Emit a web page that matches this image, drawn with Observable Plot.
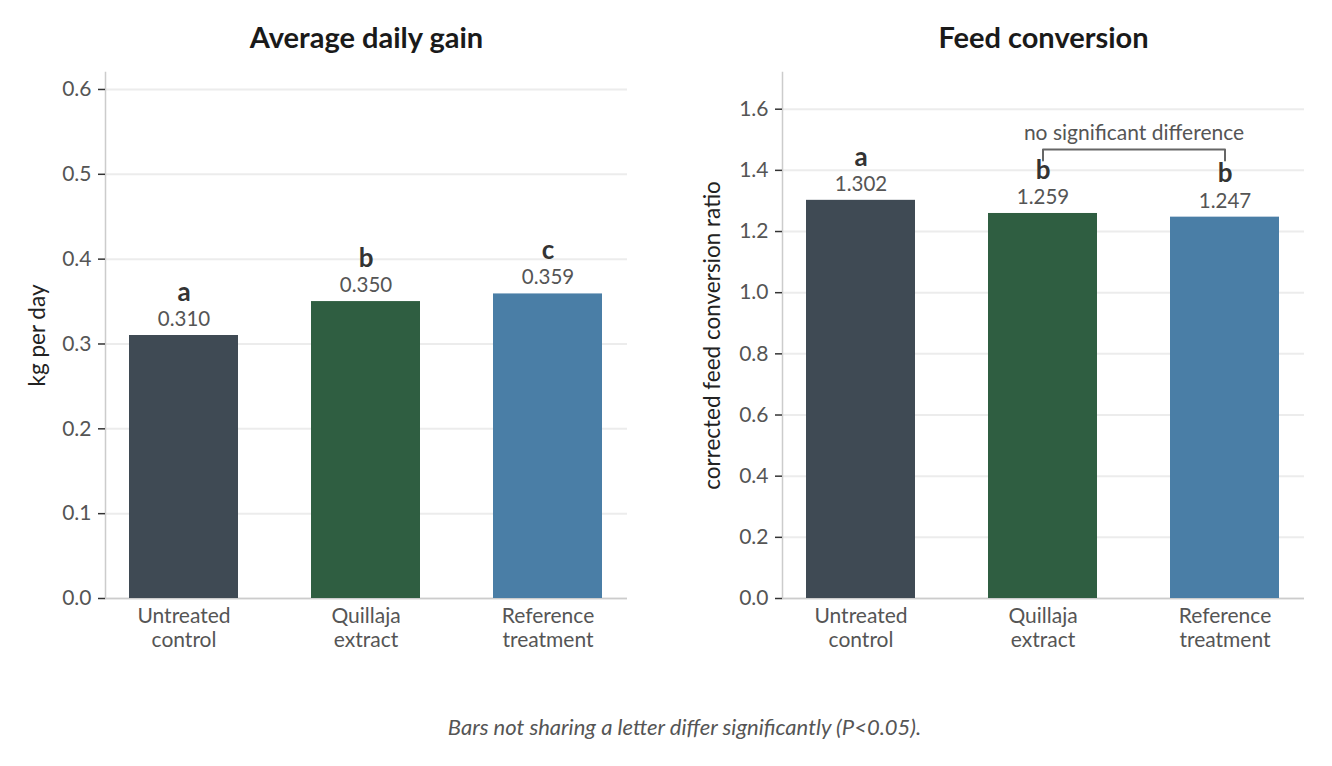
<!DOCTYPE html>
<html>
<head>
<meta charset="utf-8">
<script src="https://cdn.jsdelivr.net/npm/d3@7"></script>
<script src="https://cdn.jsdelivr.net/npm/@observablehq/plot@0.6"></script>
<style>
  html, body { margin: 0; padding: 0; background: #fff; }
  body { width: 1332px; height: 766px; overflow: hidden; font-family: Lato, "Open Sans", sans-serif; }
  #charts { display: flex; flex-direction: row; }
  #charts svg { display: block; }
  #caption { text-align: center; font-style: italic; font-size: 22px; color: #555; margin-top: 43px; padding-left: 37px; }
</style>
</head>
<body>
<div id="charts"></div>
<div id="caption">Bars not sharing a letter differ significantly (P&lt;0.05).</div>
<script>
// ---- data ----
const categories = ["Untreated control", "Quillaja extract", "Reference treatment"];
const tickLabels = ["Untreated\ncontrol", "Quillaja\nextract", "Reference\ntreatment"];
const barColors = ["#3f4a54", "#2f5e41", "#4a7ea6"];

const adgTitle = "Average daily gain";
const adgYLabel = "kg per day";
const adgValues = [0.310, 0.350, 0.359];
const adgLetters = ["a", "b", "c"];
const adgTicks = [0, 0.1, 0.2, 0.3, 0.4, 0.5, 0.6];
const adgDomain = [0, 0.62];

const fcrTitle = "Feed conversion";
const fcrYLabel = "corrected feed conversion ratio";
const fcrValues = [1.302, 1.259, 1.247];
const fcrLetters = ["a", "b", "b"];
const fcrTicks = [0, 0.2, 0.4, 0.6, 0.8, 1.0, 1.2, 1.4, 1.6];
const fcrDomain = [0, 1.72];

const bracketCats = ["Quillaja extract", "Reference treatment"];
const bracketTop = 1.468;
const bracketFoot = 1.432;
const bracketText = "no significant difference";
const bracketTextY = 1.52;

// ---- chart builder ----
const FONT = "Lato, 'Open Sans', sans-serif";
const W = 666, H = 670, MT = 72, MB = 72;

function makeChart({values, letters, ticks, domain, title, ylabel, labelX, marginLeft, marginRight, extra = []}) {
  const rows = categories.map((c, i) => ({cat: c, value: values[i], letter: letters[i], color: barColors[i]}));
  const labelMap = new Map(categories.map((c, i) => [c, tickLabels[i]]));
  return Plot.plot({
    width: W,
    height: H,
    marginTop: MT,
    marginBottom: MB,
    marginLeft,
    marginRight,
    style: {fontFamily: FONT, background: "#fff", overflow: "visible"},
    x: {domain: categories, paddingInner: 0.4, paddingOuter: 0.134, axis: null},
    y: {domain, axis: null},
    marks: [
      Plot.gridY(ticks, {stroke: "#ececec", strokeOpacity: 1, strokeWidth: 2}),
      Plot.ruleY([0], {stroke: "#cccccc", strokeWidth: 1.5}),
      Plot.frame({anchor: "left", stroke: "#cccccc", strokeWidth: 1.5}),
      Plot.axisY(ticks, {
        tickSize: 7, tickPadding: 7, stroke: "#333", strokeWidth: 1.5,
        tickFormat: d3.format(".1f"), fontSize: 21, fill: "#555", label: null
      }),
      Plot.axisX({
        tickSize: 0, tickPadding: 7, fontSize: 21, fill: "#555", label: null,
        lineHeight: 1.15, tickFormat: d => labelMap.get(d)
      }),
      Plot.barY(rows, {x: "cat", y: "value", fill: "color"}),
      Plot.text(rows, {x: "cat", y: "value", text: d => d.value.toFixed(3), dy: -16,
        fontSize: 20.5, fill: "#555", lineAnchor: "middle"}),
      Plot.text(rows, {x: "cat", y: "value", text: "letter", dy: -43,
        fontSize: 26, fontWeight: 700, fill: "#333", lineAnchor: "middle"}),
      Plot.text([title], {frameAnchor: "top", dy: -34, fontSize: 29, fontWeight: 700,
        fill: "#1a1a1a", lineAnchor: "middle", textAnchor: "middle"}),
      Plot.text([ylabel], {frameAnchor: "left", dx: -(marginLeft - labelX), rotate: -90,
        fontSize: 22.5, fill: "#222", lineAnchor: "middle", textAnchor: "middle"}),
      ...extra
    ]
  });
}

const left = makeChart({
  values: adgValues, letters: adgLetters, ticks: adgTicks, domain: adgDomain,
  title: adgTitle, ylabel: adgYLabel, labelX: 37, marginLeft: 105, marginRight: 39
});

const bracketPts = [
  {cat: bracketCats[0], y: bracketFoot},
  {cat: bracketCats[0], y: bracketTop},
  {cat: bracketCats[1], y: bracketTop},
  {cat: bracketCats[1], y: bracketFoot}
];

const right = makeChart({
  values: fcrValues, letters: fcrLetters, ticks: fcrTicks, domain: fcrDomain,
  title: fcrTitle, ylabel: fcrYLabel, labelX: 46, marginLeft: 116, marginRight: 28,
  extra: [
    Plot.line(bracketPts, {x: "cat", y: "y", stroke: "#666", strokeWidth: 2, curve: "linear"}),
    Plot.text([bracketText], {x: [bracketCats[0]], y: [bracketTextY], dx: 91,
      fontSize: 21, fill: "#555", lineAnchor: "middle"})
  ]
});

document.getElementById("charts").append(left, right);
</script>
</body>
</html>
